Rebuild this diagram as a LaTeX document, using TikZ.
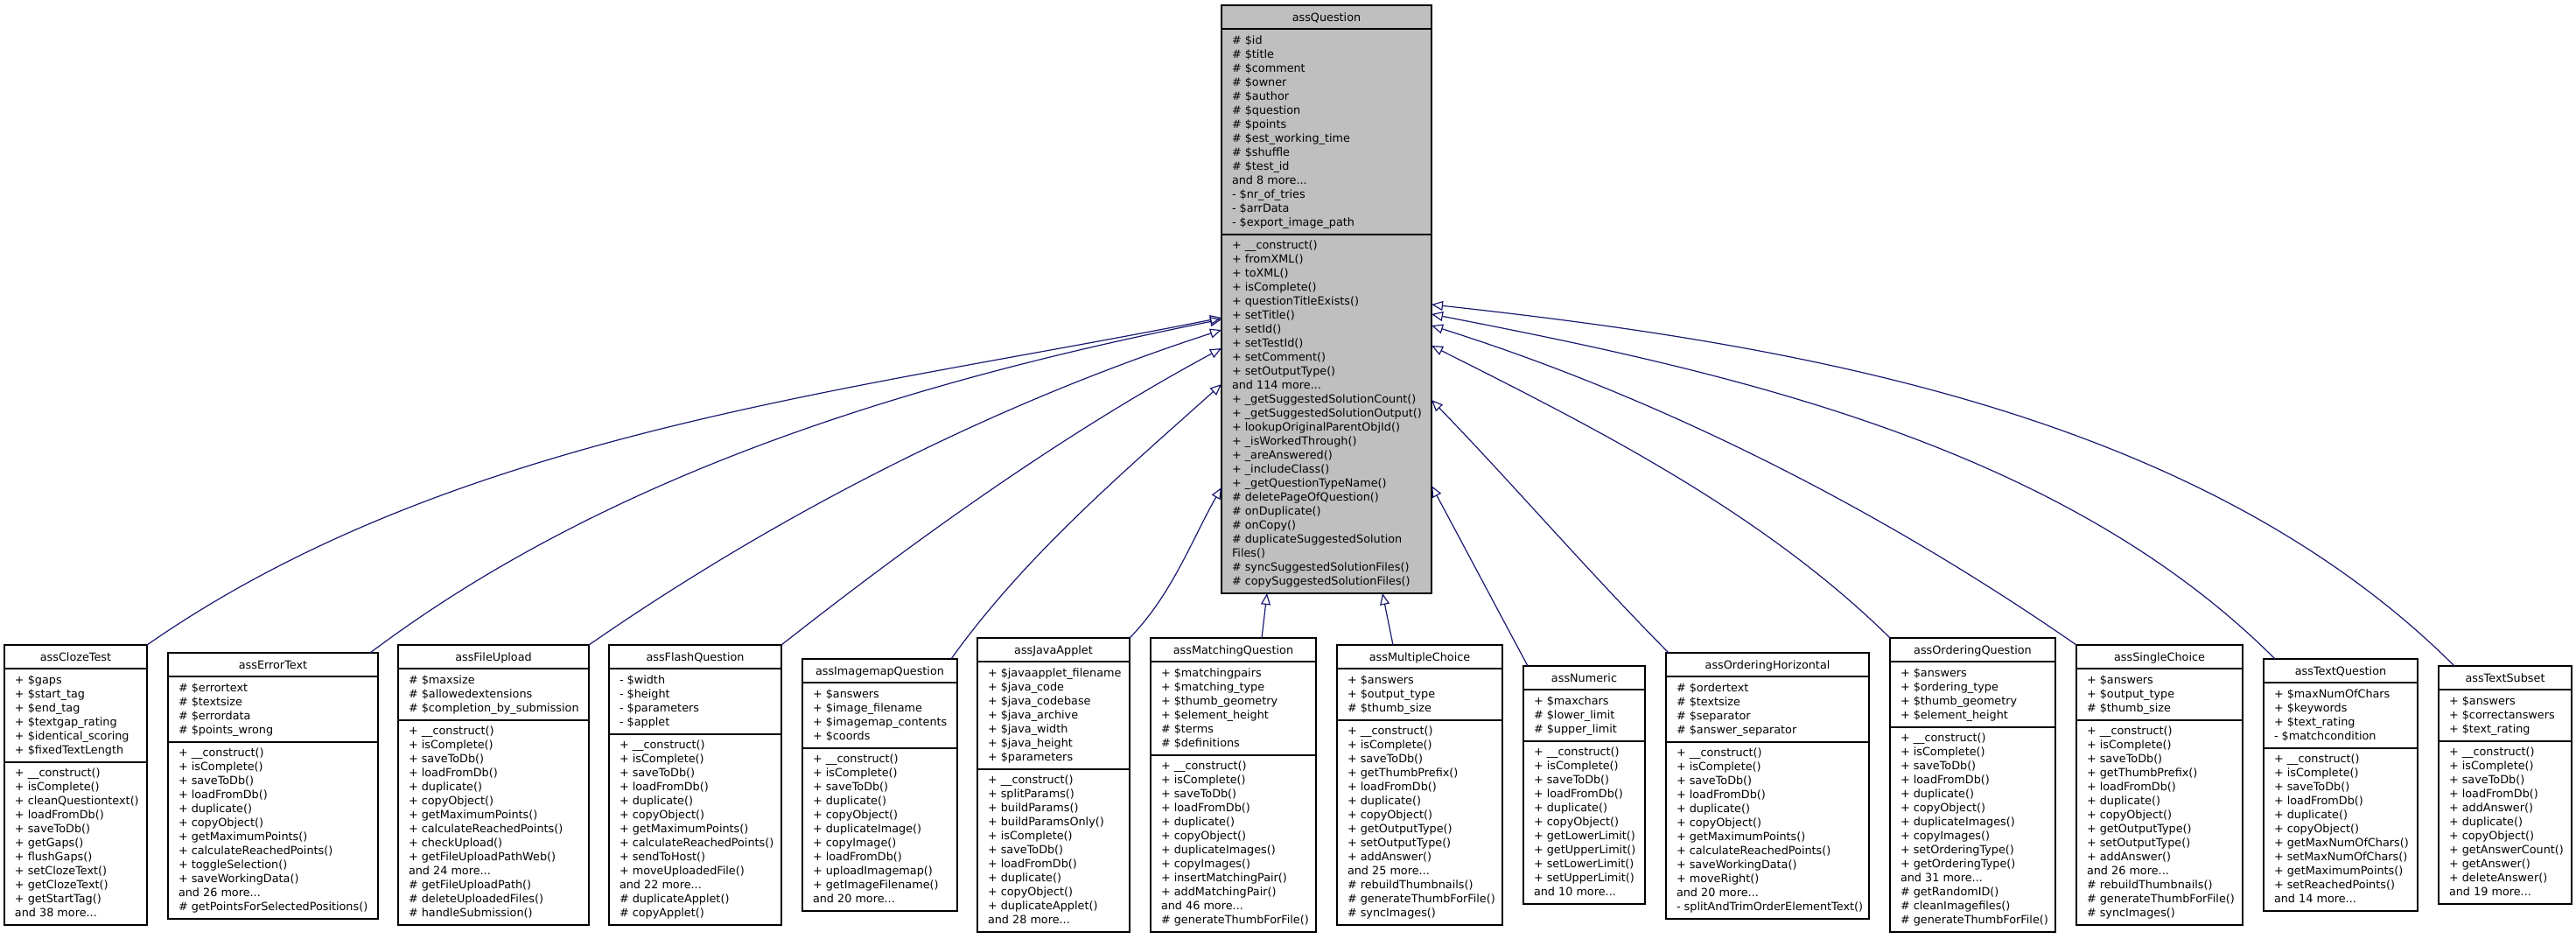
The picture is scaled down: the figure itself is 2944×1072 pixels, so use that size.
\documentclass[tikz,border=0pt]{standalone}
\usepackage{fontspec}
\setmainfont{DejaVu Sans}
\usetikzlibrary{arrows.meta,calc}
\definecolor{edgeblue}{HTML}{191970}
\definecolor{qgray}{HTML}{BFBFBF}
\newcommand\cfont{\fontsize{6.4}{8}\selectfont}
\newcommand\ustrut{\rule[-2.5pt]{0pt}{8pt}}
\def\ucfill{white}
\tikzset{
 classbox/.style={draw=black, line width=0.9pt, fill=\ucfill, inner sep=0pt, outer sep=0pt},
 sepline/.style={draw=black, line width=0.9pt},
 members/.style={inner sep=0pt, outer sep=0pt, align=left, font=\cfont},
 ctitle/.style={inner sep=0pt, outer sep=0pt, font=\cfont},
 inh/.style={draw=edgeblue, line width=0.6pt, -{Triangle[open, length=6.5pt, width=5.5pt]}},
}
% #1 name, #2 left, #3 right, #4 top, #5 nattr, #6 nmeth, #7 title, #8 attrs, #9 methods
\newcommand\umlclass[9]{%
  \pgfmathsetmacro\ucW{(#3-#2)*0.5}%
  \pgfmathsetmacro\ucS{#4+27}%
  \pgfmathsetmacro\ucT{#4+38+16*#5}%
  \pgfmathsetmacro\ucB{\ucT+16*#6+10}%
  \pgfmathsetmacro\ucH{(\ucB-#4)*0.5}%
  \pgfmathsetmacro\ucX{(#2+#3)/2}%
  \node[classbox, minimum width=\ucW pt, minimum height=\ucH pt, anchor=north west] (#1) at (#2,#4) {};
  \draw[sepline] (#2,\ucS) -- (#3,\ucS);
  \draw[sepline] (#2,\ucT) -- (#3,\ucT);
  \node[ctitle, anchor=base] (#1-t) at (\ucX,#4+18.5) {#7};
  \node[members, anchor=north west] (#1-a) at (#2+12,#4+33.5) {\ustrut#8};
  \node[members, anchor=north west] (#1-m) at (#2+12,\ucT+5.5) {\ustrut#9};
}
\begin{document}
\begin{tikzpicture}[x=0.5pt, y=-0.5pt]
\useasboundingbox (0,0) rectangle (2944,1072);

\def\ucfill{qgray}
\umlclass{q}{1396}{1636}{6}{14}{25}{assQuestion}
{\# \$id\\\# \$title\\\# \$comment\\\# \$owner\\\# \$author\\\# \$question\\\# \$points\\\# \$est\_working\_time\\\# \$shuffle\\\# \$test\_id\\and 8 more...\\- \$nr\_of\_tries\\- \$arrData\\- \$export\_image\_path}
{+ \_\_construct()\\+ fromXML()\\+ toXML()\\+ isComplete()\\+ questionTitleExists()\\+ setTitle()\\+ setId()\\+ setTestId()\\+ setComment()\\+ setOutputType()\\and 114 more...\\+ \_getSuggestedSolutionCount()\\+ \_getSuggestedSolutionOutput()\\+ lookupOriginalParentObjId()\\+ \_isWorkedThrough()\\+ \_areAnswered()\\+ \_includeClass()\\+ \_getQuestionTypeName()\\\# deletePageOfQuestion()\\\# onDuplicate()\\\# onCopy()\\\# duplicateSuggestedSolution\\Files()\\\# syncSuggestedSolutionFiles()\\\# copySuggestedSolutionFiles()}
\def\ucfill{white}

\umlclass{cloze}{5}{168}{737}{6}{11}{assClozeTest}
{+ \$gaps\\+ \$start\_tag\\+ \$end\_tag\\+ \$textgap\_rating\\+ \$identical\_scoring\\+ \$fixedTextLength}
{+ \_\_construct()\\+ isComplete()\\+ cleanQuestiontext()\\+ loadFromDb()\\+ saveToDb()\\+ getGaps()\\+ flushGaps()\\+ setClozeText()\\+ getClozeText()\\+ getStartTag()\\and 38 more...}

\umlclass{error}{192}{432}{746}{4}{12}{assErrorText}
{\# \$errortext\\\# \$textsize\\\# \$errordata\\\# \$points\_wrong}
{+ \_\_construct()\\+ isComplete()\\+ saveToDb()\\+ loadFromDb()\\+ duplicate()\\+ copyObject()\\+ getMaximumPoints()\\+ calculateReachedPoints()\\+ toggleSelection()\\+ saveWorkingData()\\and 26 more...\\\# getPointsForSelectedPositions()}

\umlclass{fileup}{455}{673}{737}{3}{14}{assFileUpload}
{\# \$maxsize\\\# \$allowedextensions\\\# \$completion\_by\_submission}
{+ \_\_construct()\\+ isComplete()\\+ saveToDb()\\+ loadFromDb()\\+ duplicate()\\+ copyObject()\\+ getMaximumPoints()\\+ calculateReachedPoints()\\+ checkUpload()\\+ getFileUploadPathWeb()\\and 24 more...\\\# getFileUploadPath()\\\# deleteUploadedFiles()\\\# handleSubmission()}

\umlclass{flash}{696}{893}{737}{4}{13}{assFlashQuestion}
{- \$width\\- \$height\\- \$parameters\\- \$applet}
{+ \_\_construct()\\+ isComplete()\\+ saveToDb()\\+ loadFromDb()\\+ duplicate()\\+ copyObject()\\+ getMaximumPoints()\\+ calculateReachedPoints()\\+ sendToHost()\\+ moveUploadedFile()\\and 22 more...\\\# duplicateApplet()\\\# copyApplet()}

\umlclass{imagemap}{917}{1094}{753}{4}{11}{assImagemapQuestion}
{+ \$answers\\+ \$image\_filename\\+ \$imagemap\_contents\\+ \$coords}
{+ \_\_construct()\\+ isComplete()\\+ saveToDb()\\+ duplicate()\\+ copyObject()\\+ duplicateImage()\\+ copyImage()\\+ loadFromDb()\\+ uploadImagemap()\\+ getImageFilename()\\and 20 more...}

\umlclass{java}{1117}{1291}{729}{7}{11}{assJavaApplet}
{+ \$javaapplet\_filename\\+ \$java\_code\\+ \$java\_codebase\\+ \$java\_archive\\+ \$java\_width\\+ \$java\_height\\+ \$parameters}
{+ \_\_construct()\\+ splitParams()\\+ buildParams()\\+ buildParamsOnly()\\+ isComplete()\\+ saveToDb()\\+ loadFromDb()\\+ duplicate()\\+ copyObject()\\+ duplicateApplet()\\and 28 more...}

\umlclass{matching}{1315}{1504}{729}{6}{12}{assMatchingQuestion}
{+ \$matchingpairs\\+ \$matching\_type\\+ \$thumb\_geometry\\+ \$element\_height\\\# \$terms\\\# \$definitions}
{+ \_\_construct()\\+ isComplete()\\+ saveToDb()\\+ loadFromDb()\\+ duplicate()\\+ copyObject()\\+ duplicateImages()\\+ copyImages()\\+ insertMatchingPair()\\+ addMatchingPair()\\and 46 more...\\\# generateThumbForFile()}

\umlclass{multi}{1528}{1717}{737}{3}{14}{assMultipleChoice}
{+ \$answers\\+ \$output\_type\\\# \$thumb\_size}
{+ \_\_construct()\\+ isComplete()\\+ saveToDb()\\+ getThumbPrefix()\\+ loadFromDb()\\+ duplicate()\\+ copyObject()\\+ getOutputType()\\+ setOutputType()\\+ addAnswer()\\and 25 more...\\\# rebuildThumbnails()\\\# generateThumbForFile()\\\# syncImages()}

\umlclass{numeric}{1741}{1880}{761}{3}{11}{assNumeric}
{+ \$maxchars\\\# \$lower\_limit\\\# \$upper\_limit}
{+ \_\_construct()\\+ isComplete()\\+ saveToDb()\\+ loadFromDb()\\+ duplicate()\\+ copyObject()\\+ getLowerLimit()\\+ getUpperLimit()\\+ setLowerLimit()\\+ setUpperLimit()\\and 10 more...}

\umlclass{orderh}{1904}{2136}{746}{4}{12}{assOrderingHorizontal}
{\# \$ordertext\\\# \$textsize\\\# \$separator\\\# \$answer\_separator}
{+ \_\_construct()\\+ isComplete()\\+ saveToDb()\\+ loadFromDb()\\+ duplicate()\\+ copyObject()\\+ getMaximumPoints()\\+ calculateReachedPoints()\\+ saveWorkingData()\\+ moveRight()\\and 20 more...\\- splitAndTrimOrderElementText()}

\umlclass{orderq}{2160}{2349}{729}{4}{14}{assOrderingQuestion}
{+ \$answers\\+ \$ordering\_type\\+ \$thumb\_geometry\\+ \$element\_height}
{+ \_\_construct()\\+ isComplete()\\+ saveToDb()\\+ loadFromDb()\\+ duplicate()\\+ copyObject()\\+ duplicateImages()\\+ copyImages()\\+ setOrderingType()\\+ getOrderingType()\\and 31 more...\\\# getRandomID()\\\# cleanImagefiles()\\\# generateThumbForFile()}

\umlclass{single}{2373}{2563}{737}{3}{14}{assSingleChoice}
{+ \$answers\\+ \$output\_type\\\# \$thumb\_size}
{+ \_\_construct()\\+ isComplete()\\+ saveToDb()\\+ getThumbPrefix()\\+ loadFromDb()\\+ duplicate()\\+ copyObject()\\+ getOutputType()\\+ setOutputType()\\+ addAnswer()\\and 26 more...\\\# rebuildThumbnails()\\\# generateThumbForFile()\\\# syncImages()}

\umlclass{textq}{2587}{2763}{753}{4}{11}{assTextQuestion}
{+ \$maxNumOfChars\\+ \$keywords\\+ \$text\_rating\\- \$matchcondition}
{+ \_\_construct()\\+ isComplete()\\+ saveToDb()\\+ loadFromDb()\\+ duplicate()\\+ copyObject()\\+ getMaxNumOfChars()\\+ setMaxNumOfChars()\\+ getMaximumPoints()\\+ setReachedPoints()\\and 14 more...}

\umlclass{subset}{2787}{2939}{761}{3}{11}{assTextSubset}
{+ \$answers\\+ \$correctanswers\\+ \$text\_rating}
{+ \_\_construct()\\+ isComplete()\\+ saveToDb()\\+ loadFromDb()\\+ addAnswer()\\+ duplicate()\\+ copyObject()\\+ getAnswerCount()\\+ getAnswer()\\+ deleteAnswer()\\and 19 more...}

% inheritance connectors
\draw[inh] (cloze.north east) .. controls (519,493) and (976,447) .. ($(q.north west)+(0,357)$);
\draw[inh] ($(error.north east)+(-9,0)$) .. controls (701,537) and (1055,433) .. ($(q.north west)+(0,359)$);
\draw[inh] (fileup.north east) .. controls (894,584) and (1140,460) .. ($(q.north west)+(0,371)$);
\draw[inh] (flash.north east) .. controls (1052,612) and (1218,494) .. ($(q.north west)+(0,392)$);
\draw[inh] ($(imagemap.north east)+(-7,0)$) .. controls (1172,634) and (1287,537) .. ($(q.north west)+(0,433)$);
\draw[inh] (java.north east) .. controls (1339,680) and (1362,617) .. ($(q.north west)+(0,551)$);
\draw[inh] ($(matching.north west)+(127,0)$) -- ($(q.south west)+(52,0)$);
\draw[inh] ($(multi.north west)+(64,0)$) -- ($(q.south west)+(184,0)$);
\draw[inh] ($(numeric.north west)+(5,0)$) .. controls (1709,692) and (1673,624) .. ($(q.north east)+(0,549)$);
\draw[inh] ($(orderh.north west)+(3,0)$) .. controls (1814,652) and (1728,552) .. ($(q.north east)+(0,451)$);
\draw[inh] (orderq.north west) .. controls (2014,585) and (1821,488) .. ($(q.north east)+(0,389)$);
\draw[inh] (single.north west) .. controls (2148,581) and (1896,454) .. ($(q.north east)+(0,366)$);
\draw[inh] ($(textq.north west)+(13,0)$) .. controls (2355,508) and (1976,425) .. ($(q.north east)+(0,353)$);
\draw[inh] ($(subset.north west)+(18,0)$) .. controls (2513,470) and (2047,393) .. ($(q.north east)+(0,342)$);
\end{tikzpicture}
\end{document}
